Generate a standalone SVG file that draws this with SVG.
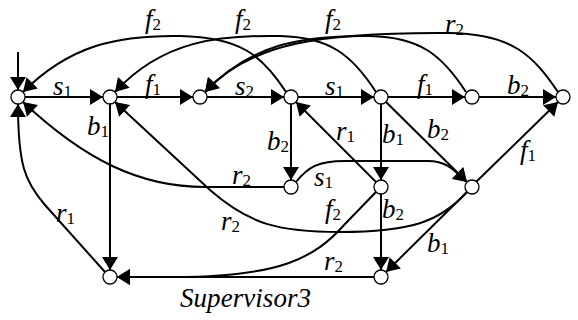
<svg xmlns="http://www.w3.org/2000/svg" width="578" height="320" viewBox="0 0 578 320">
<style>
.e{fill:none;stroke:#000;stroke-width:2;marker-end:url(#ah)}
.n{fill:#fff;stroke:#000;stroke-width:1.3}
.l{font-family:"Liberation Serif","Times New Roman",serif;font-style:italic;font-size:27px;fill:#000}
.s{font-style:normal;font-size:17px}
</style>
<defs>
<marker id="ah" viewBox="-14 -9 15 18" markerWidth="15" markerHeight="18" refX="0" refY="0" orient="auto" markerUnits="userSpaceOnUse">
<path d="M0,0 L-13,-8 L-13,8 Z" fill="#000"/>
</marker>
</defs>
<rect width="578" height="320" fill="#fff"/>
<g id="connectors">
<path class="e" d="M18,52 L18,90"/>
<path class="e" d="M25,97 L103,97"/>
<path class="e" d="M117,97 L193,97"/>
<path class="e" d="M207,97 L284,97"/>
<path class="e" d="M298,97 L374,97"/>
<path class="e" d="M388,97 L465,97"/>
<path class="e" d="M479,97 L556,97"/>
<path class="e" d="M110,104 L110,270"/>
<path class="e" d="M291,104 L291,180"/>
<path class="e" d="M381,104 L381,180"/>
<path class="e" d="M386,102 L467,182"/>
<path class="e" d="M476,182 L558,102"/>
<path class="e" d="M376,182 L296,102"/>
<path class="e" d="M381,194 L381,270"/>
<path class="e" d="M467,192 L386,272"/>
<path class="e" d="M374,277 L117,277"/>
<path class="e" d="M376,192 L345,224 C315,258 280,277 175,277 L117,277"/>
<path class="e" d="M296,182 C308,167 318,161 345,161 L428,161 C445,161 452,168 467,182"/>
<path class="e" d="M284,187 L205,187 C140,187 85,160 23,102"/>
<path class="e" d="M467,192 C440,222 410,232 340,232 C280,232 250,225 210,190 L115,102"/>
<path class="e" d="M105,272 L45,205 C25,182 18,165 18,104"/>
<path class="e" d="M286,92 C262,55 240,37 180,36 C118,35 70,45 23,92"/>
<path class="e" d="M376,92 C352,55 330,37 280,36 C220,35 163,40 115,92"/>
<path class="e" d="M466,92 C442,55 420,37 370,36 C300,35 250,45 205,92"/>
<path class="e" d="M558,92 C533,55 512,34 450,33 C320,32 250,43 205,92"/>
</g>
<g id="labels">
<text class="l" x="53" y="95">s<tspan class="s" dy="2">1</tspan></text>
<text class="l" x="145" y="93">f<tspan class="s" dy="2">1</tspan></text>
<text class="l" x="235" y="95">s<tspan class="s" dy="2">2</tspan></text>
<text class="l" x="325" y="95">s<tspan class="s" dy="2">1</tspan></text>
<text class="l" x="417" y="93">f<tspan class="s" dy="2">1</tspan></text>
<text class="l" x="507" y="94">b<tspan class="s" dy="2">2</tspan></text>
<text class="l" x="87" y="135">b<tspan class="s" dy="2">1</tspan></text>
<text class="l" x="267" y="150">b<tspan class="s" dy="2">2</tspan></text>
<text class="l" x="336" y="140">r<tspan class="s" dy="2">1</tspan></text>
<text class="l" x="382" y="143">b<tspan class="s" dy="2">1</tspan></text>
<text class="l" x="427" y="138">b<tspan class="s" dy="2">2</tspan></text>
<text class="l" x="520" y="159">f<tspan class="s" dy="2">1</tspan></text>
<text class="l" x="232" y="184">r<tspan class="s" dy="2">2</tspan></text>
<text class="l" x="314" y="186">s<tspan class="s" dy="2">1</tspan></text>
<text class="l" x="325" y="218">f<tspan class="s" dy="2">2</tspan></text>
<text class="l" x="382" y="218">b<tspan class="s" dy="2">2</tspan></text>
<text class="l" x="221" y="230">r<tspan class="s" dy="2">2</tspan></text>
<text class="l" x="56" y="222">r<tspan class="s" dy="2">1</tspan></text>
<text class="l" x="427" y="252">b<tspan class="s" dy="2">1</tspan></text>
<text class="l" x="324" y="270">r<tspan class="s" dy="2">2</tspan></text>
<text class="l" x="145" y="28">f<tspan class="s" dy="2">2</tspan></text>
<text class="l" x="235" y="28">f<tspan class="s" dy="2">2</tspan></text>
<text class="l" x="325" y="28">f<tspan class="s" dy="2">2</tspan></text>
<text class="l" x="445" y="33">r<tspan class="s" dy="2">2</tspan></text>
<text class="l" x="180" y="307" textLength="131" lengthAdjust="spacing">Supervisor3</text>
</g>
<g id="A"><circle class="n" cx="18" cy="97" r="7"/></g>
<g id="B"><circle class="n" cx="110" cy="97" r="7"/></g>
<g id="C"><circle class="n" cx="200" cy="97" r="7"/></g>
<g id="D"><circle class="n" cx="291" cy="97" r="7"/></g>
<g id="E"><circle class="n" cx="381" cy="97" r="7"/></g>
<g id="F"><circle class="n" cx="472" cy="97" r="7"/></g>
<g id="G"><circle class="n" cx="563" cy="97" r="7"/></g>
<g id="H"><circle class="n" cx="291" cy="187" r="7"/></g>
<g id="I"><circle class="n" cx="381" cy="187" r="7"/></g>
<g id="J"><circle class="n" cx="472" cy="187" r="7"/></g>
<g id="K"><circle class="n" cx="110" cy="277" r="7"/></g>
<g id="L"><circle class="n" cx="381" cy="277" r="7"/></g>
</svg>
